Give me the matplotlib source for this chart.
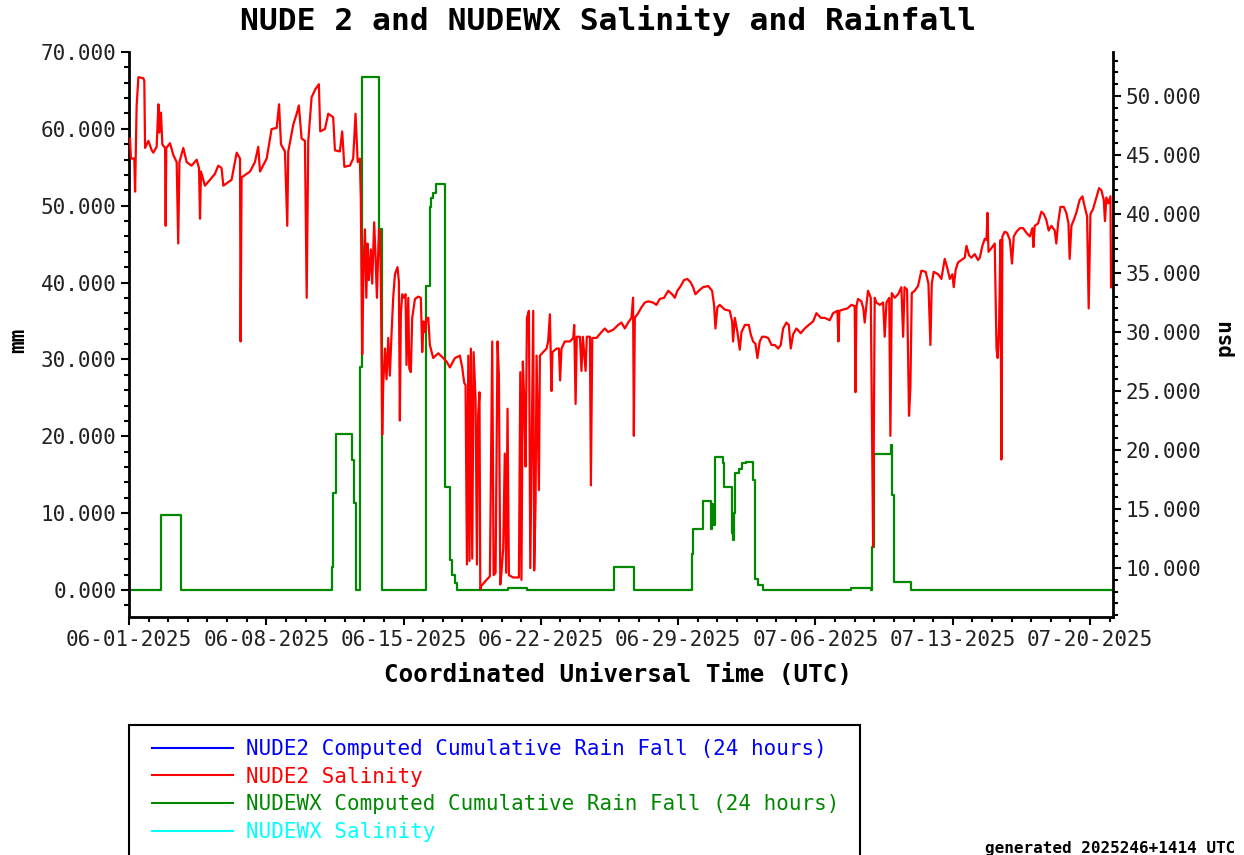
import numpy as np
import pandas as pd
import matplotlib
matplotlib.use("Agg")
import matplotlib.pyplot as plt
import matplotlib.dates as mdates
from matplotlib.ticker import MultipleLocator, FormatStrFormatter
from matplotlib.lines import Line2D
from matplotlib.patches import Rectangle

plt.rcParams['font.family'] = 'DejaVu Sans Mono'

# NUDEWX computed cumulative rain fall (24 h), mm -- step values, days after 06-01-2025
rain_day = [0.0, 1.63, 2.63, 10.33, 10.42, 10.55, 11.35, 11.47, 11.57, 11.77,
            11.86, 12.76, 12.88, 15.12, 15.34, 15.42, 15.50, 15.67, 16.13, 16.36,
            16.45, 16.62, 16.70, 19.30, 20.30, 24.74, 25.74, 28.68, 28.76, 29.27,
            29.65, 29.73, 29.80, 29.87, 30.29, 30.35, 30.72, 30.80, 30.85, 30.90,
            31.10, 31.27, 31.44, 31.82, 31.90, 32.07, 32.33, 36.83, 37.85, 37.90,
            37.97, 38.87, 38.92, 38.99, 39.89, 50.2]
rain_mm = [0, 9.8, 0, 3.0, 12.6, 20.3, 16.9, 11.3, 0, 29.0,
           66.7, 47.0, 0, 39.6, 49.9, 51.0, 51.7, 52.8, 13.4, 3.9,
           2.0, 0.9, 0, 0.3, 0, 3.0, 0, 4.7, 8.0, 11.6,
           8.0, 11.2, 8.5, 17.3, 16.5, 13.4, 7.4, 6.5, 10.0, 15.2,
           15.8, 16.5, 16.7, 14.3, 1.5, 0.65, 0, 0.3, 0, 5.6,
           17.7, 18.9, 12.4, 1.1, 0, 0]

# NUDE2 salinity, psu
sal = [
    (0.05, 46.4), (0.10, 44.7), (0.27, 44.7), (0.31, 41.9), (0.34, 44.7), (0.39, 49.2),
    (0.48, 51.6), (0.73, 51.5), (0.78, 51.3), (0.82, 45.6), (0.99, 46.2), (1.16, 45.4),
    (1.24, 45.2), (1.41, 45.7), (1.50, 49.3), (1.55, 46.9), (1.63, 48.6), (1.70, 45.9),
    (1.84, 45.6), (1.87, 39.0), (1.90, 45.6), (2.09, 46.0), (2.26, 45.0), (2.43, 44.4),
    (2.51, 37.5), (2.57, 44.4), (2.77, 45.6), (2.94, 44.4), (3.19, 44.1), (3.45, 44.6),
    (3.57, 43.9), (3.62, 39.6), (3.67, 43.6), (3.87, 42.4), (4.13, 42.9), (4.38, 43.4),
    (4.55, 44.1), (4.72, 43.9), (4.81, 42.4), (5.23, 42.9), (5.49, 45.2), (5.66, 44.7),
    (5.69, 29.2), (5.74, 43.1), (6.17, 43.6), (6.42, 44.4), (6.59, 45.7), (6.68, 43.6),
    (7.02, 44.7), (7.27, 47.2), (7.53, 47.3), (7.65, 49.3), (7.75, 45.9), (7.95, 45.3),
    (8.07, 39.0), (8.12, 45.3), (8.38, 47.6), (8.55, 48.5), (8.66, 49.2), (8.80, 46.4),
    (8.97, 46.2), (9.06, 32.9), (9.14, 46.2), (9.31, 49.9), (9.51, 50.6), (9.68, 51.0),
    (9.75, 47.0), (9.99, 47.2), (10.16, 48.5), (10.41, 48.2), (10.50, 45.4), (10.75, 45.3),
    (10.87, 47.0), (10.98, 44.0), (11.26, 44.1), (11.43, 44.7), (11.55, 48.5), (11.66, 44.4),
    (11.77, 44.7), (11.82, 41.3), (11.89, 28.1), (11.96, 35.8), (12.03, 38.7), (12.10, 32.9),
    (12.16, 37.5), (12.23, 34.4), (12.33, 37.0), (12.40, 34.1), (12.50, 39.3), (12.57, 36.4),
    (12.64, 32.9), (12.74, 38.7), (12.79, 38.6), (12.84, 34.6), (12.91, 21.3), (12.96, 25.5),
    (13.05, 28.6), (13.13, 26.0), (13.22, 29.5), (13.30, 26.3), (13.39, 30.0), (13.47, 32.9),
    (13.56, 34.9), (13.69, 35.5), (13.76, 34.3), (13.81, 22.5), (13.86, 31.5), (13.93, 33.2),
    (14.03, 32.9), (14.10, 33.2), (14.15, 27.2), (14.24, 32.9), (14.29, 26.9), (14.37, 26.6),
    (14.44, 31.2), (14.58, 32.8), (14.75, 33.0), (14.88, 32.9), (14.95, 28.3), (15.02, 30.9),
    (15.09, 30.0), (15.17, 31.2), (15.26, 31.2), (15.34, 28.9), (15.51, 27.8), (15.77, 28.2),
    (16.02, 27.8), (16.19, 27.5), (16.36, 27.0), (16.62, 27.8), (16.87, 28.0), (16.99, 27.0),
    (17.09, 25.7), (17.16, 25.5), (17.23, 10.3), (17.30, 28.0), (17.36, 10.6), (17.43, 28.6),
    (17.50, 10.8), (17.57, 28.3), (17.67, 24.3), (17.74, 10.3), (17.80, 22.9), (17.87, 24.9),
    (17.91, 8.2), (17.97, 8.5), (18.23, 9.0), (18.40, 9.3), (18.52, 29.2), (18.59, 9.4),
    (18.69, 9.6), (18.79, 29.2), (18.86, 26.3), (18.93, 8.6), (18.99, 9.6), (19.08, 11.7),
    (19.16, 19.7), (19.23, 9.6), (19.30, 23.5), (19.37, 9.4), (19.59, 9.2), (19.76, 9.2),
    (19.88, 9.2), (19.95, 26.6), (20.01, 9.0), (20.08, 27.5), (20.15, 24.3), (20.22, 18.6),
    (20.29, 31.2), (20.39, 31.8), (20.46, 10.0), (20.52, 18.6), (20.61, 31.8), (20.66, 9.8),
    (20.73, 15.7), (20.78, 28.0), (20.83, 23.2), (20.90, 16.6), (20.95, 28.0), (21.12, 28.3),
    (21.29, 28.6), (21.37, 29.2), (21.46, 31.5), (21.54, 25.0), (21.59, 28.3), (21.80, 28.6),
    (21.92, 28.6), (21.98, 25.9), (22.05, 28.6), (22.22, 29.2), (22.48, 29.2), (22.65, 29.5),
    (22.70, 30.6), (22.77, 23.9), (22.83, 29.6), (22.99, 29.6), (23.07, 26.7), (23.14, 29.6),
    (23.28, 26.7), (23.34, 29.6), (23.50, 29.6), (23.55, 17.0), (23.62, 29.5), (23.84, 29.5),
    (24.09, 30.0), (24.26, 30.3), (24.43, 30.0), (24.69, 30.2), (24.94, 30.6), (25.11, 30.8),
    (25.28, 30.3), (25.45, 30.8), (25.62, 31.2), (25.70, 32.9), (25.74, 21.2), (25.79, 31.2),
    (25.96, 31.6), (26.13, 32.1), (26.30, 32.5), (26.47, 32.6), (26.72, 32.5), (26.89, 32.3),
    (27.06, 32.8), (27.28, 32.9), (27.49, 33.5), (27.69, 33.2), (27.83, 32.9), (27.96, 33.5),
    (28.13, 33.9), (28.30, 34.4), (28.47, 34.5), (28.64, 34.2), (28.76, 33.8), (28.88, 33.2),
    (29.05, 33.5), (29.27, 33.8), (29.53, 33.9), (29.73, 33.5), (29.83, 32.3), (29.90, 30.3),
    (30.00, 32.1), (30.12, 32.3), (30.38, 31.9), (30.63, 31.8), (30.75, 30.9), (30.80, 29.2),
    (30.89, 31.2), (31.02, 30.0), (31.14, 28.5), (31.23, 30.0), (31.40, 30.6), (31.60, 30.6),
    (31.70, 29.8), (31.82, 29.2), (31.94, 29.0), (32.04, 27.8), (32.16, 29.2), (32.28, 29.6),
    (32.42, 29.6), (32.59, 29.5), (32.76, 28.9), (32.93, 28.9), (33.10, 28.6), (33.23, 28.9),
    (33.35, 30.3), (33.52, 30.8), (33.64, 30.6), (33.74, 28.6), (33.86, 29.8), (34.03, 30.3),
    (34.25, 29.9), (34.45, 30.3), (34.66, 30.6), (34.88, 30.9), (35.05, 31.6), (35.27, 31.2),
    (35.47, 31.2), (35.73, 31.0), (35.90, 31.6), (36.12, 31.8), (36.17, 29.2), (36.22, 31.8),
    (36.41, 31.9), (36.63, 32.0), (36.83, 32.3), (37.00, 32.2), (37.04, 24.9), (37.09, 32.2),
    (37.17, 32.8), (37.34, 32.6), (37.44, 32.0), (37.51, 30.8), (37.58, 32.0), (37.68, 33.5),
    (37.82, 32.9), (37.94, 11.8), (38.02, 32.9), (38.11, 32.5), (38.28, 32.3), (38.45, 32.5),
    (38.53, 29.6), (38.62, 32.5), (38.76, 32.9), (38.82, 21.2), (38.89, 33.3), (39.04, 32.9),
    (39.21, 33.2), (39.38, 33.8), (39.47, 29.6), (39.54, 33.8), (39.67, 33.6), (39.77, 22.9),
    (39.84, 25.3), (39.91, 33.3), (40.06, 33.5), (40.23, 33.9), (40.40, 35.2), (40.62, 35.1),
    (40.76, 34.1), (40.86, 28.9), (40.93, 34.1), (41.03, 35.1), (41.25, 34.9), (41.42, 34.5),
    (41.59, 36.2), (41.71, 35.5), (41.85, 34.5), (41.98, 34.9), (42.05, 33.8), (42.15, 35.3),
    (42.27, 35.9), (42.44, 36.1), (42.61, 36.3), (42.70, 37.3), (42.83, 36.5), (42.95, 36.3),
    (43.12, 36.6), (43.29, 36.1), (43.38, 36.3), (43.51, 37.3), (43.63, 37.9), (43.72, 37.8),
    (43.77, 40.1), (43.82, 36.8), (43.97, 37.1), (44.14, 37.5), (44.23, 28.6), (44.29, 27.8),
    (44.36, 30.3), (44.43, 37.8), (44.48, 19.2), (44.53, 38.1), (44.65, 38.5), (44.77, 38.4),
    (44.91, 37.8), (45.02, 35.8), (45.11, 38.1), (45.25, 38.5), (45.42, 38.8), (45.59, 38.8),
    (45.76, 38.4), (45.93, 38.1), (46.06, 38.8), (46.11, 37.2), (46.18, 39.0), (46.35, 39.2),
    (46.52, 40.2), (46.64, 40.0), (46.77, 39.5), (46.89, 38.6), (47.03, 39.0), (47.20, 38.6),
    (47.28, 37.5), (47.37, 39.2), (47.49, 40.6), (47.66, 40.6), (47.79, 40.1), (47.90, 39.2),
    (47.96, 36.2), (48.05, 39.0), (48.17, 39.5), (48.30, 40.1), (48.47, 41.2), (48.61, 41.5),
    (48.73, 40.6), (48.85, 39.8), (48.93, 32.0), (49.02, 40.0), (49.15, 40.4), (49.29, 41.2),
    (49.46, 42.2), (49.58, 42.0), (49.70, 41.2), (49.76, 39.4), (49.83, 41.4), (49.93, 40.9),
    (50.04, 41.5), (50.07, 33.8),
]
sal_day = [d for d, v in sal]
sal_psu = [v for d, v in sal]

labels = ["NUDE2 Computed Cumulative Rain Fall (24 hours)",
          "NUDE2 Salinity",
          "NUDEWX Computed Cumulative Rain Fall (24 hours)",
          "NUDEWX Salinity"]
colors = ["#0000ff", "#ff0000", "#008800", "#00ffff"]

t0 = pd.Timestamp("2025-06-01")
def to_time(days):
    return t0 + pd.to_timedelta(np.asarray(days), unit="D")

W, H = 1244, 855
fig = plt.figure(figsize=(W / 100, H / 100), dpi=100)
ax = fig.add_axes([129 / W, 1 - 617 / H, (1113 - 129) / W, (617 - 52) / H])
ax2 = ax.twinx()

ax.step(to_time(rain_day), rain_mm, where="post", color=colors[2], lw=1.6)
ax2.plot(to_time(sal_day), sal_psu, color=colors[1], lw=1.6)

ax.set_xlim(t0, t0 + pd.Timedelta(days=50.17))
ax.set_ylim(-3.5, 70)
ax2.set_ylim(5.85, 53.73)

for a in (ax, ax2):
    a.spines["top"].set_visible(False)
    for s in a.spines.values():
        s.set_linewidth(2)
ax.spines["right"].set_visible(False)
ax2.spines["left"].set_visible(False)
ax2.spines["bottom"].set_visible(False)

ax.yaxis.set_major_locator(MultipleLocator(10))
ax.yaxis.set_minor_locator(MultipleLocator(2))
ax.yaxis.set_major_formatter(FormatStrFormatter("%.3f"))
ax2.yaxis.set_major_locator(MultipleLocator(5))
ax2.yaxis.set_minor_locator(MultipleLocator(1))
ax2.yaxis.set_major_formatter(FormatStrFormatter("%.3f"))

weeks = pd.date_range("2025-06-01", "2025-07-20", freq="7D")
ax.xaxis.set_major_locator(matplotlib.ticker.FixedLocator(mdates.date2num(weeks)))
ax.xaxis.set_minor_locator(mdates.DayLocator())
ax.xaxis.set_major_formatter(mdates.DateFormatter("%m-%d-%Y"))

for a in (ax, ax2):
    a.tick_params(which="major", direction="out", length=6, width=1.5,
                  labelsize=15, colors="black", labelcolor="#222222", pad=3)
    a.tick_params(which="minor", direction="out", length=3.5, width=1.5)

fig.text(608 / W, 1 - 21 / H, "NUDE 2 and NUDEWX Salinity and Rainfall",
         ha="center", va="center", fontsize=22.5, fontweight="bold")
fig.text(618 / W, 1 - 675 / H, "Coordinated Universal Time (UTC)",
         ha="center", va="center", fontsize=17.5, fontweight="bold")
fig.text(18 / W, 1 - 340 / H, "mm", rotation=90, ha="center", va="center",
         fontsize=15, fontweight="bold")
fig.text(1224 / W, 1 - 337 / H, "psu", rotation=90, ha="center", va="center",
         fontsize=15, fontweight="bold")

handles = [Line2D([], [], color=c, lw=1.5) for c in colors]
fig.legend(handles, labels, loc="upper left", bbox_to_anchor=(152 / W, 1 - 739 / H),
           frameon=False, fontsize=15, handlelength=3.9, handletextpad=0.6,
           labelspacing=0.37, borderpad=0, borderaxespad=0, labelcolor="linecolor")
fig.patches.append(Rectangle((129 / W, 1 - 880 / H), (860 - 129) / W, (880 - 725) / H,
                             transform=fig.transFigure, fill=False, ec="black", lw=1.5))

fig.text(985 / W, 1 - 853 / H, "generated 2025246+1414 UTC", ha="left", va="baseline",
         fontsize=11.5, fontweight="bold")

fig.savefig("out.png", dpi=100)
